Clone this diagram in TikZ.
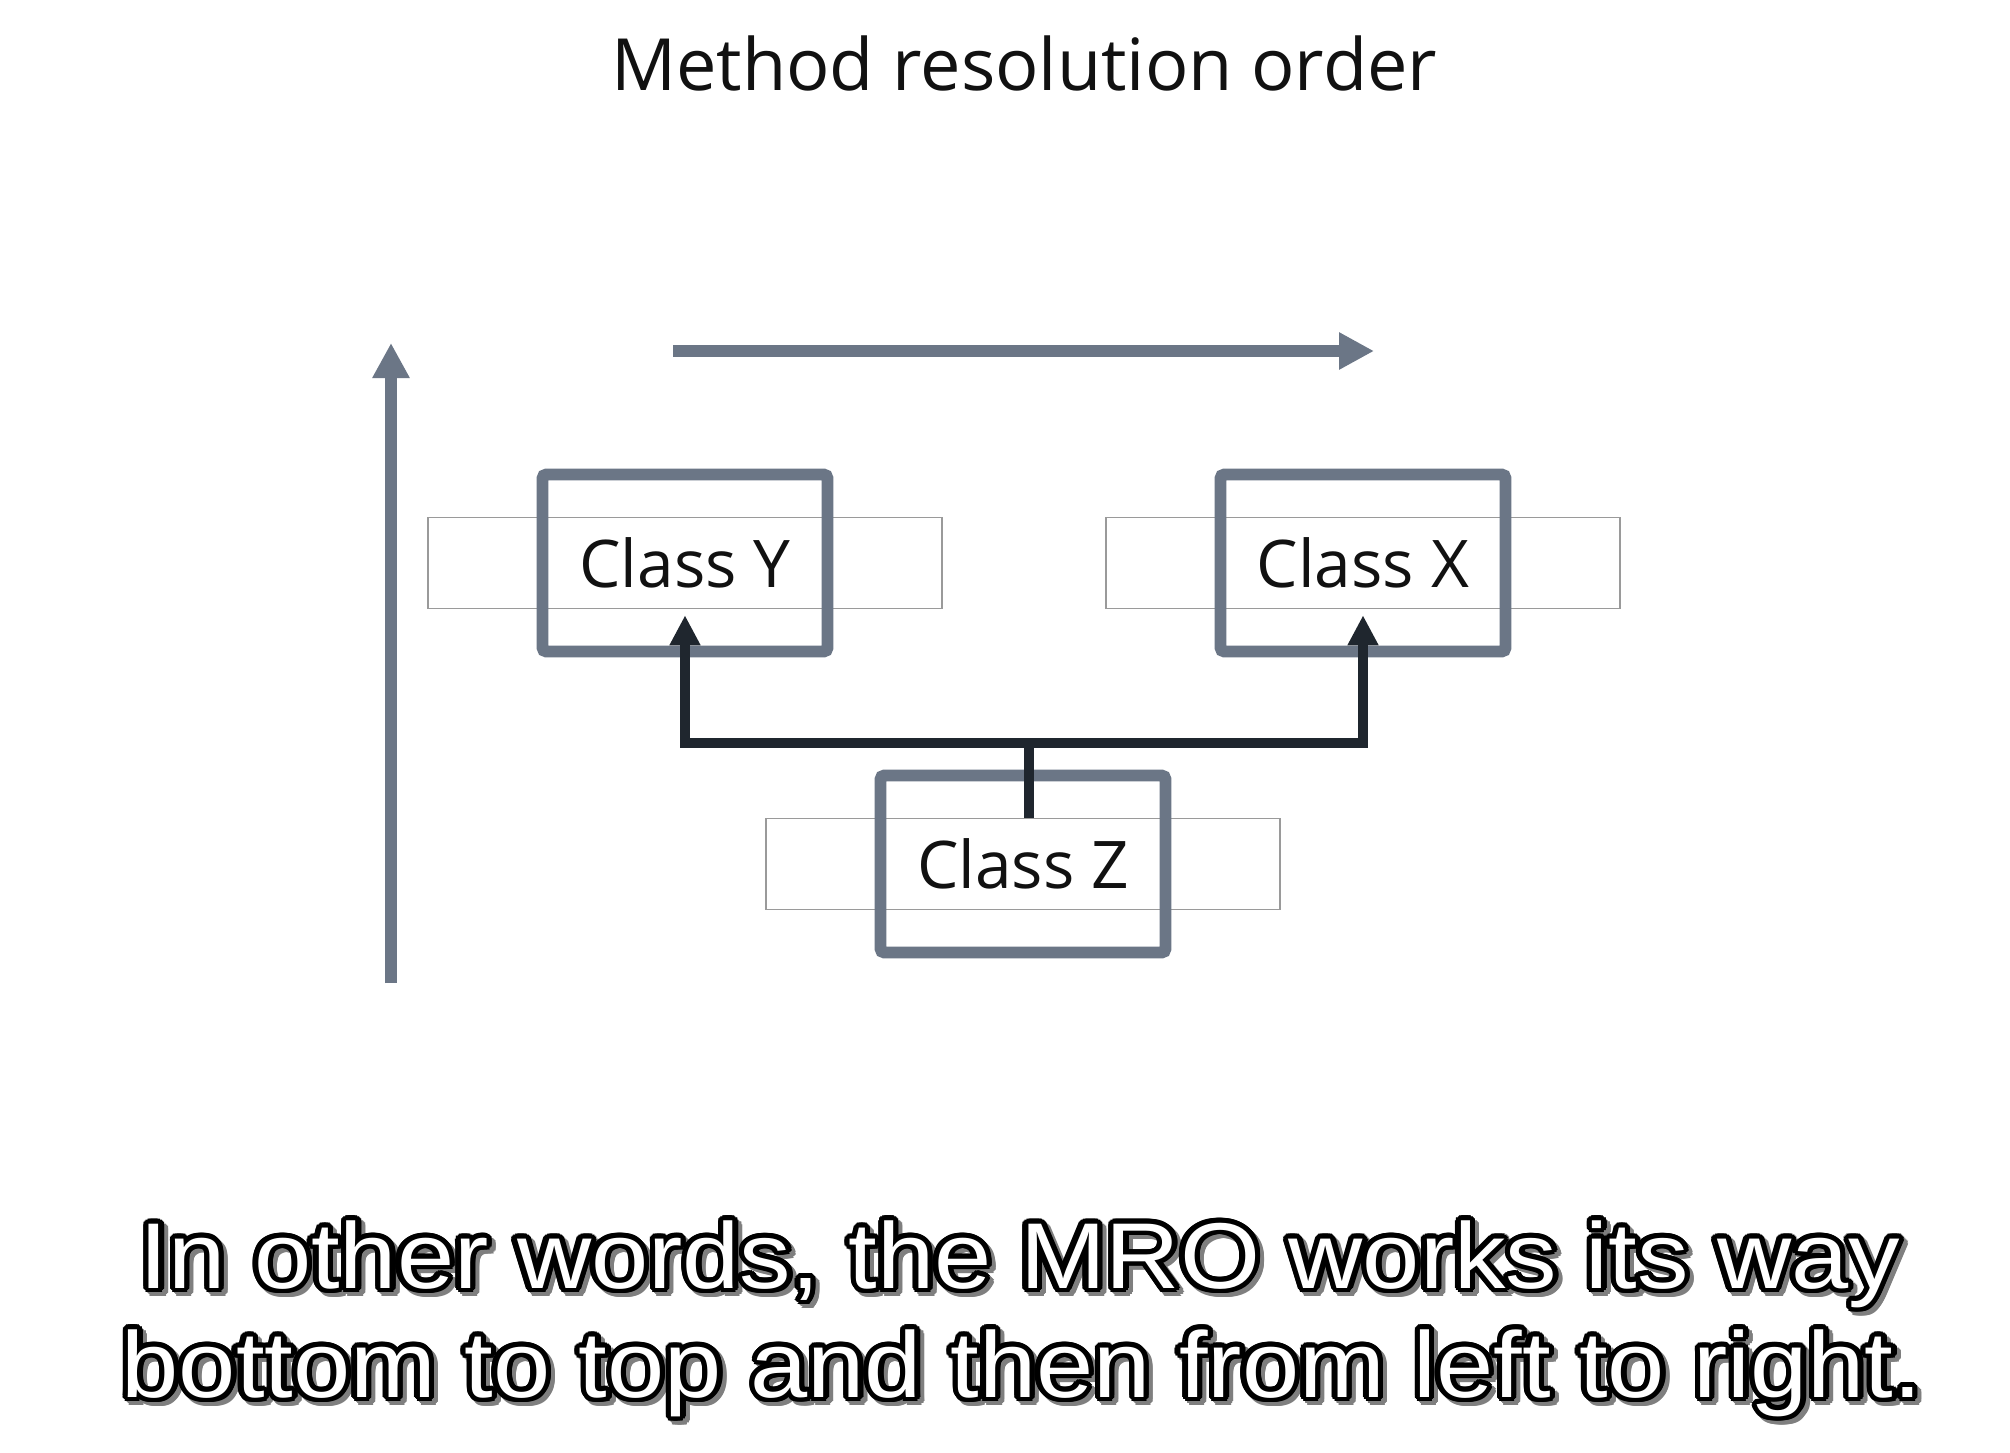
\documentclass[tikz,border=0pt]{standalone}
\usepackage{fontspec}
\setmainfont{Open Sans}
\newfontfamily\capfont{Liberation Sans}
\usepackage{graphicx}
\usepackage{contour}
\contourlength{1.4pt}
\contournumber{20}
\usetikzlibrary{arrows.meta,positioning}
\definecolor{MroSlate}{HTML}{6B7686}
\definecolor{MroInk}{HTML}{1F262E}
\definecolor{MroLine}{HTML}{9A9A9A}
\definecolor{MroShade}{HTML}{7F7F7F}
\definecolor{MroText}{HTML}{111111}
\newcommand{\capline}[2]{\scalebox{1.10}[1]{\contour{#1}{#2}}}
\tikzset{
  every picture/.append style={>=Stealth},
  ttlfont/.style={font=\fontsize{20.5pt}{24pt}\selectfont},
  clsfont/.style={font=\fontsize{18.7pt}{22pt}\selectfont},
  capfont/.style={font=\capfont\fontsize{26.6pt}{30pt}\selectfont},
  cls/.style={rectangle, rounded corners=1pt, draw=MroSlate, line width=3.3pt,
              minimum width=2.85cm, minimum height=1.77cm, inner sep=0pt,
              clsfont, text=MroText},
  wide/.style={rectangle, draw=MroLine, line width=0.45pt,
               minimum width=5.14cm, minimum height=0.91cm, inner sep=0pt},
  order/.style={-{Triangle[length=0.35cm,width=0.35cm]}, line width=3.3pt, draw=MroSlate},
  inherit/.style={{Triangle[length=0.30cm,width=0.29cm]}-{Triangle[length=0.30cm,width=0.29cm]},
                  line width=2.9pt, draw=MroInk},
  stem/.style={line width=2.9pt, draw=MroInk},
}
\begin{document}
\begin{tikzpicture}[x=1cm,y=1cm]
\path[use as bounding box, fill=white] (0,0) rectangle (20.10,-14.52);

% ---------------- title ---------------------------------------------------------
\node[ttlfont, anchor=base, text=MroText] (title) at (10.24,-0.90) {Method resolution order};

% ---------------- order arrows --------------------------------------------------
\coordinate (up0) at (3.91,-9.83);
\coordinate (up1) at (3.91,-3.43);
\coordinate (lr0) at (6.73,-3.51);
\coordinate (lr1) at (13.74,-3.51);
\draw[order] (up0) -- (up1);
\draw[order] (lr0) -- (lr1);

% ---------------- classes -------------------------------------------------------
\node[wide] (Yw) at (6.85,-5.63) {};
\node[cls] (Y) at (Yw) {Class Y};
\node[wide] (Xw) at (13.63,-5.63) {};
\node[cls] (X) at (Xw) {Class X};
\node[wide] (Zw) at (10.23,-8.64) {};
\node[cls] (Z) at (Zw) {Class Z};

% ---------------- inheritance ---------------------------------------------------
\coordinate (bar) at (0,-7.43);
\draw[stem] ([xshift=0.06cm]Zw.north) -- ([xshift=0.06cm]Zw.north |- bar);
\draw[inherit] ([yshift=-0.06cm]Yw.south) -- (Yw.south |- bar)
  -- (Xw.south |- bar) -- ([yshift=-0.06cm]Xw.south);

% ---------------- caption -------------------------------------------------------
\node[capfont, anchor=base, text=MroShade] (cap1s) at (10.24,-12.92) {\capline{MroShade}{In other words, the MRO works its way}};
\node[capfont, anchor=base, text=white] (cap1) at (10.20,-12.88) {\capline{black}{In other words, the MRO works its way}};
\node[capfont, anchor=base, text=MroShade] (cap2s) at (10.26,-14.01) {\capline{MroShade}{bottom to top and then from left to right.}};
\node[capfont, anchor=base, text=white] (cap2) at (10.22,-13.97) {\capline{black}{bottom to top and then from left to right.}};

\end{tikzpicture}
\end{document}
